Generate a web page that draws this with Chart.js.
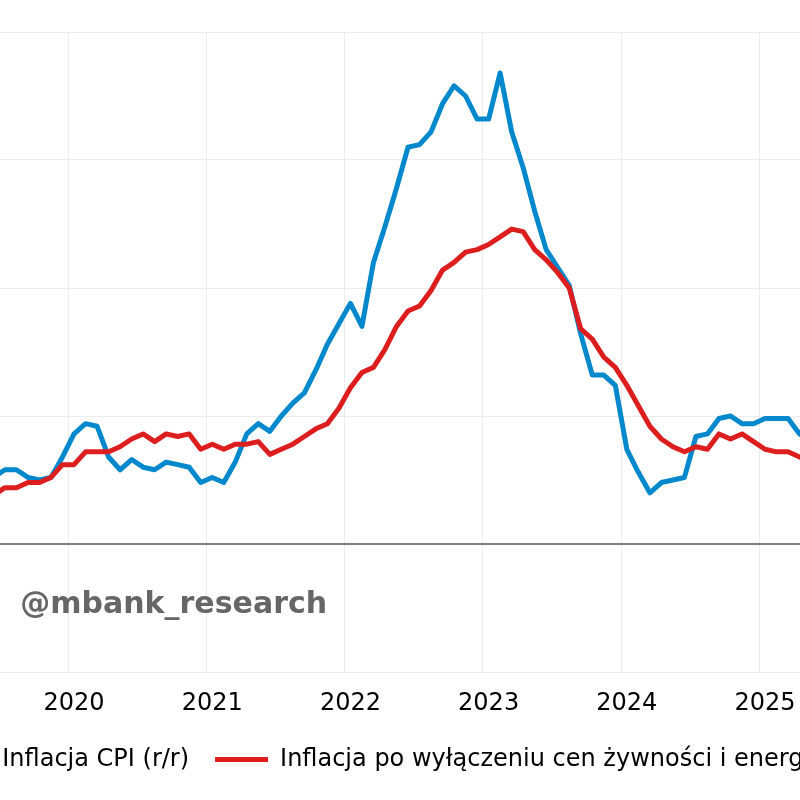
<!DOCTYPE html>
<html>
<head>
<meta charset="utf-8">
<script src="https://cdn.jsdelivr.net/npm/chart.js@4.4.0/dist/chart.umd.min.js"></script>
<style>
html,body{margin:0;padding:0;width:800px;height:800px;overflow:hidden;background:#fff;}
#wrap{position:absolute;top:0;left:0;width:800px;height:800px;overflow:hidden;background:#fff;}
#c{position:absolute;top:0;}
</style>
</head>
<body>
<div id="wrap"><canvas id="c"></canvas></div>
<script>
// ---- data ----
const months = [
  '2019-06','2019-07','2019-08','2019-09','2019-10','2019-11','2019-12',
  '2020-01','2020-02','2020-03','2020-04','2020-05','2020-06','2020-07','2020-08','2020-09','2020-10','2020-11','2020-12',
  '2021-01','2021-02','2021-03','2021-04','2021-05','2021-06','2021-07','2021-08','2021-09','2021-10','2021-11','2021-12',
  '2022-01','2022-02','2022-03','2022-04','2022-05','2022-06','2022-07','2022-08','2022-09','2022-10','2022-11','2022-12',
  '2023-01','2023-02','2023-03','2023-04','2023-05','2023-06','2023-07','2023-08','2023-09','2023-10','2023-11','2023-12',
  '2024-01','2024-02','2024-03','2024-04','2024-05','2024-06','2024-07','2024-08','2024-09','2024-10','2024-11','2024-12',
  '2025-01','2025-02','2025-03','2025-04','2025-05'
];
const cpi = [
  2.6, 2.9, 2.9, 2.6, 2.5, 2.6, 3.4,
  4.3, 4.7, 4.6, 3.4, 2.9, 3.3, 3.0, 2.9, 3.2, 3.1, 3.0, 2.4,
  2.6, 2.4, 3.2, 4.3, 4.7, 4.4, 5.0, 5.5, 5.9, 6.8, 7.8, 8.6,
  9.4, 8.5, 11.0, 12.4, 13.9, 15.5, 15.6, 16.1, 17.2, 17.9, 17.5, 16.6,
  16.6, 18.4, 16.1, 14.7, 13.0, 11.5, 10.8, 10.1, 8.2, 6.6, 6.6, 6.2,
  3.7, 2.8, 2.0, 2.4, 2.5, 2.6, 4.2, 4.3, 4.9, 5.0, 4.7, 4.7,
  4.9, 4.9, 4.9, 4.3, 4.0
];
const core = [
  1.9, 2.2, 2.2, 2.4, 2.4, 2.6, 3.1,
  3.1, 3.6, 3.6, 3.6, 3.8, 4.1, 4.3, 4.0, 4.3, 4.2, 4.3, 3.7,
  3.9, 3.7, 3.9, 3.9, 4.0, 3.5, 3.7, 3.9, 4.2, 4.5, 4.7, 5.3,
  6.1, 6.7, 6.9, 7.6, 8.5, 9.1, 9.3, 9.9, 10.7, 11.0, 11.4, 11.5,
  11.7, 12.0, 12.3, 12.2, 11.5, 11.1, 10.6, 10.0, 8.4, 8.0, 7.3, 6.9,
  6.2, 5.4, 4.6, 4.1, 3.8, 3.6, 3.8, 3.7, 4.3, 4.1, 4.3, 4.0,
  3.7, 3.6, 3.6, 3.4, 3.3
];
const seriesNames = ['Inflacja CPI (r/r)', 'Inflacja po wyłączeniu cen żywności i energii'];
const seriesColors = ['#0088CC', '#DD1E1E'];
const yMin = -5, yMax = 20, yStep = 5;
const watermarkText = '@mbank_research';

// ---- layout ----
const FONT = "'DejaVu Sans', sans-serif";
const W = 1152, H = 800;
const tickFontSize = 24;
const fontSize = 24, boxW = 53, legPad = 26;
const mctx = document.createElement('canvas').getContext('2d');
mctx.font = fontSize + 'px ' + FONT;
let LW = 0;
seriesNames.forEach(t => { LW += boxW + fontSize / 2 + mctx.measureText(t).width + legPad; });
const firstTextX = 2;
const box1Start = firstTextX - boxW - fontSize / 2;
const L = (legPad + W - LW) / 2 - box1Start;
const yearW = 138.2, monthW = yearW / 12;
const plotLeft = 68 - 7 * monthW;
const plotRight = plotLeft + months.length * monthW;
const A = L + plotLeft;
const B = W - L - plotRight;

const cv = document.getElementById('c');
cv.width = W; cv.height = H;
cv.style.width = W + 'px'; cv.style.height = H + 'px';
cv.style.left = (-L) + 'px';

Chart.defaults.font.family = FONT;
Chart.defaults.color = '#000';

const watermark = {
  id: 'watermark',
  afterDraw(chart) {
    const ctx = chart.ctx;
    ctx.save();
    ctx.font = 'bold 30px ' + FONT;
    ctx.fillStyle = '#666666';
    ctx.textBaseline = 'alphabetic';
    ctx.textAlign = 'left';
    ctx.fillText(watermarkText, L + 20, 613);
    ctx.restore();
  }
};

const isJan = i => { const m = months[i]; return !!m && m.endsWith('-01'); };

new Chart(cv, {
  type: 'line',
  data: {
    labels: months,
    datasets: [
      { label: seriesNames[0], data: cpi, borderColor: seriesColors[0], backgroundColor: seriesColors[0],
        borderWidth: 5, pointRadius: 0, tension: 0, fill: false, order: 1,
        borderJoinStyle: 'round', borderCapStyle: 'round' },
      { label: seriesNames[1], data: core, borderColor: seriesColors[1], backgroundColor: seriesColors[1],
        borderWidth: 5, pointRadius: 0, tension: 0, fill: false, order: 0,
        borderJoinStyle: 'round', borderCapStyle: 'round' }
    ]
  },
  options: {
    responsive: false, animation: false, devicePixelRatio: 1,
    layout: { padding: { top: 32, bottom: 18.5, left: 0, right: 0 } },
    plugins: {
      legend: {
        position: 'bottom',
        labels: {
          usePointStyle: true, pointStyle: 'line', pointStyleWidth: boxW,
          padding: legPad, font: { size: fontSize }, color: '#000',
          sort: (a, b) => a.datasetIndex - b.datasetIndex
        }
      },
      tooltip: { enabled: false }
    },
    scales: {
      x: {
        type: 'category', offset: true,
        grid: { offset: true, drawTicks: false, lineWidth: 1,
          color: ctx => isJan(ctx.index) ? '#ececec' : 'rgba(0,0,0,0)' },
        border: { display: false },
        ticks: { autoSkip: false, maxRotation: 0, minRotation: 0, padding: 17.5,
          font: { size: tickFontSize }, color: '#000',
          callback: (v, i) => isJan(i) ? months[i].slice(0, 4) : '' },
        afterFit: s => { s.height = 49.5; }
      },
      y: {
        min: yMin, max: yMax,
        ticks: { display: false, stepSize: yStep },
        grid: { drawTicks: false,
          color: ctx => (ctx.tick && ctx.tick.value === 0) ? '#808080' : '#ececec',
          lineWidth: ctx => (ctx.tick && ctx.tick.value === 0) ? 2 : 1 },
        border: { display: false },
        afterFit: s => { s.width = A; }
      },
      y2: {
        position: 'right', display: true,
        grid: { display: false, drawTicks: false },
        ticks: { display: false },
        border: { display: false },
        afterFit: s => { s.width = B; }
      }
    }
  },
  plugins: [watermark]
});
</script>
</body>
</html>
